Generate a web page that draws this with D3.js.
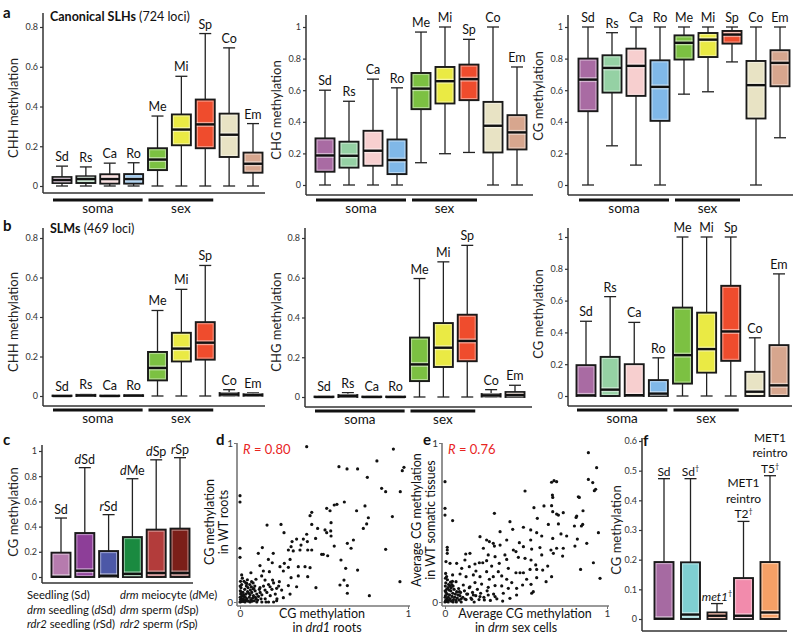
<!DOCTYPE html>
<html><head><meta charset="utf-8">
<script src="https://cdn.jsdelivr.net/npm/d3@7"></script>
<style>body{margin:0;background:#fff} svg{display:block} text{font-family:Lato,'Open Sans',sans-serif}</style>
</head><body>
<script>
// ---------------- DATA ----------------
const tissues = ["Sd","Rs","Ca","Ro","Me","Mi","Sp","Co","Em"];
const tissueColors = ["#a96ba3","#95d1a4","#f7cfcf","#80b8e8","#7cc142","#eaea44","#ef4c2d","#e8e3c4","#d7a68e"];
// box stats: [low whisker, q1, median, q3, high whisker]
const slhCHH = [[0,0.015,0.03,0.045,0.10],[0,0.015,0.035,0.049,0.096],[0,0.012,0.035,0.059,0.115],[0,0.012,0.035,0.06,0.117],
  [0,0.08,0.133,0.19,0.352],[0,0.205,0.284,0.36,0.552],[0,0.19,0.31,0.435,0.767],[0,0.146,0.258,0.364,0.695],[0,0.067,0.112,0.168,0.314]];
const slhCHG = [[0,0.084,0.187,0.295,0.60],[0,0.11,0.185,0.274,0.53],[0,0.122,0.217,0.343,0.67],[0,0.069,0.158,0.288,0.615],
  [0.141,0.48,0.61,0.709,0.968],[0.198,0.516,0.657,0.747,1.0],[0.206,0.537,0.67,0.762,0.922],[0,0.206,0.375,0.526,1.0],[0,0.225,0.333,0.442,0.747]];
const slhCG = [[0,0.467,0.667,0.8,1],[0.248,0.585,0.741,0.821,0.964],[0.126,0.564,0.754,0.863,1],[0,0.406,0.621,0.789,1],
  [0.575,0.794,0.9,0.947,1],[0.59,0.81,0.92,0.962,1],[0.779,0.895,0.952,0.975,1],[0,0.421,0.632,0.785,1],[0.299,0.625,0.773,0.853,1]];
const slmCHH = [[0,0,0,0.002,0.002],[0,0,0.003,0.006,0.008],[0,0,0,0.002,0.003],[0,0,0.002,0.004,0.005],
  [0,0.079,0.142,0.223,0.433],[0,0.175,0.24,0.32,0.54],[0,0.184,0.27,0.374,0.661],[0,0.002,0.008,0.015,0.032],[0,0.001,0.005,0.009,0.017]];
const slmCHG = [[0,0,0,0.002,0.003],[0,0,0.005,0.01,0.022],[0,0,0,0.002,0.003],[0,0,0,0.002,0.003],
  [0,0.08,0.164,0.299,0.596],[0,0.151,0.248,0.372,0.68],[0,0.18,0.282,0.414,0.763],[0,0.002,0.008,0.015,0.037],[0,0,0.01,0.025,0.059]];
const slmCG = [[0,0,0.004,0.194,0.47],[0,0,0.04,0.246,0.625],[0,0,0.005,0.2,0.463],[0,0,0.015,0.1,0.24],
  [0,0.078,0.257,0.556,1],[0,0.147,0.295,0.524,1],[0,0.221,0.406,0.693,1],[0,0,0.027,0.152,0.366],[0,0,0.067,0.32,0.768]];

const mutantCats = ["Sd","dSd","rSd","dMe","dSp","rSp"];
const mutantLabels = ["Sd","*d*Sd","*r*Sd","*d*Me","*d*Sp","*r*Sp"];
const mutantColors = ["#b67bae","#8d3e98","#4c58a7","#1a8a40","#b33c3b","#7b1f19"];
const mutantCG = [[0,0,0.002,0.193,0.468],[0,0,0.05,0.349,0.868],[0,0,0.01,0.206,0.495],[0,0,0.025,0.317,0.78],[0,0,0.032,0.376,0.93],[0,0,0.032,0.384,0.947]];
const mutantLegend = [["Seedling (Sd)","*drm* seedling (*d*Sd)","*rdr2* seedling (*r*Sd)"],["*drm* meiocyte (*d*Me)","*drm* sperm (*d*Sp)","*rdr2* sperm (*r*Sp)"]];

const met1Cats = ["Sd","Sd2","met1","T2","T5"];
const met1Labels = ["Sd","Sd†","*met1*†","MET1|reintro|T2†","MET1|reintro|T5†"];
const met1Colors = ["#a66aa2","#7fcfd2","#ee5a2a","#f28bac","#f6a066"];
const met1CG = [[0,0,0.001,0.192,0.473],[0,0,0.015,0.191,0.473],[0,0,0.011,0.022,0.052],[0,0,0.011,0.138,0.329],[0,0,0.022,0.192,0.483]];

const groupNames = ["soma","sex"];

// scatter d: [CG in drd1 roots, CG in WT roots]
const scatterD = [[0.397,0.977],[0.913,0.962],[0.815,0.887],[0.589,0.851],[0.637,0.837],[0.700,0.837],[0.976,0.847],[0.966,0.826],[0.758,0.784],
[0.843,0.715],[0.867,0.694],[0.954,0.694],[0.0,0.669],[0.0,0.629],[0.621,0.629],[0.577,0.614],[0.561,0.610],[0.744,0.604],[0.516,0.589],
[0.536,0.574],[0.694,0.574],[0.427,0.564],[0.417,0.543],[0.764,0.530],[0.907,0.537],[0.542,0.499],[0.161,0.484],[0.244,0.488],[0.427,0.488],
[0.754,0.491],[0.462,0.463],[0.734,0.463],[0.262,0.436],[0.397,0.426],[0.506,0.453],[0.516,0.436],[0.540,0.447],[0.542,0.415],[0.337,0.396],
[0.377,0.396],[0.450,0.400],[0.310,0.380],[0.363,0.358],[0.401,0.380],[0.675,0.390],[0.639,0.369],[0.561,0.352],[0.0,0.338],[0.133,0.342],
[0.304,0.348],[0.661,0.338],[0.288,0.327],[0.317,0.321],[0.357,0.327],[0.403,0.327],[0.427,0.327],[0.867,0.331],[0.109,0.306],[0.198,0.306],
[0.486,0.300],[0.496,0.300],[0.522,0.291],[0.0,0.281],[0.169,0.268],[0.298,0.268],[0.192,0.247],[0.264,0.243],[0.601,0.264],[0.119,0.229],
[0.238,0.222],[0.288,0.218],[0.347,0.222],[0.387,0.222],[0.417,0.216],[0.629,0.212],[0.700,0.201],[0.139,0.195],[0.175,0.191],[0.258,0.195],
[0.065,0.184],[0.010,0.170],[0.129,0.164],[0.304,0.153],[0.347,0.164],[0.403,0.159],[0.619,0.138],[0.095,0.143],[0.149,0.138],[0.194,0.138],
[0.234,0.128],[0.069,0.128],[0.040,0.117],[0.595,0.107],[0.639,0.103],[0.288,0.103],[0.337,0.096],[0.452,0.090],[0.952,0.128],[0.179,0.096],
[0.218,0.086],[0.248,0.075],[0.119,0.090],[0.149,0.075],[0.079,0.082],[0.639,0.055],[0.298,0.050],[0.770,0.040],[0.258,0.027],[0.218,0.008],
[0.155,0.0],
[0,0],[0.005,0.002],[0.01,0.005],[0.015,0.01],[0.02,0.003],[0.003,0.015],[0.008,0.025],[0.012,0.04],[0.004,0.05],[0.002,0.07],[0.006,0.09],
[0.01,0.11],[0.003,0.13],[0.02,0.02],[0.025,0.035],[0.03,0.01],[0.035,0.05],[0.04,0.02],[0.045,0.065],[0.05,0.005],[0.055,0.03],[0.06,0.045],
[0.065,0.015],[0.07,0.06],[0.075,0.025],[0.08,0.04],[0.085,0.008],[0.09,0.07],[0.095,0.02],[0.1,0.05],[0.105,0.012],[0.11,0.035],[0.115,0.08],
[0.12,0.06],[0.125,0.02],[0.13,0.045],[0.018,0.06],[0.028,0.08],[0.038,0.1],[0.048,0.09],[0.058,0.11],[0.068,0.095],[0.078,0.12],[0.088,0.1],
[0.014,0.15],[0.024,0.13],[0.034,0.12],[0.044,0.14],[0.001,0.1],[0.001,0.03],[0.007,0.06],[0.022,0.045],[0.032,0.03],[0.042,0.008],[0.052,0.055],
[0.062,0.075],[0.072,0.005],[0.082,0.085],[0.092,0.03],[0.14,0.1],[0.15,0.02],[0.16,0.06],[0.17,0.11],[0.18,0.04],[0.19,0.08],[0.2,0.12],
[0.21,0.05],[0.22,0.02],[0.23,0.1],[0.17,0.0],[0.2,0.0],[0.13,0.0],[0.1,0.0],[0.06,0.0],[0.03,0.0]];

// scatter e: [avg CG in drm sex cells, avg CG in WT somatic tissues]
const scatterE = [[0.885,0.939],[0.936,0.845],[0.0,0.757],[0.885,0.771],[0.912,0.751],[0.930,0.709],[0.922,0.700],[0.658,0.753],[0.673,0.763],
[0.689,0.757],[0.494,0.698],[0.663,0.673],[0.665,0.658],[0.823,0.662],[0.829,0.658],[0.0,0.589],[0.0,0.547],[0.047,0.512],[0.611,0.604],
[0.658,0.606],[0.549,0.593],[0.665,0.568],[0.689,0.553],[0.700,0.547],[0.730,0.562],[0.305,0.558],[0.852,0.574],[0.570,0.526],[0.809,0.532],
[0.813,0.541],[0.401,0.505],[0.418,0.457],[0.340,0.442],[0.484,0.470],[0.638,0.488],[0.700,0.491],[0.799,0.478],[0.850,0.488],[0.842,0.478],
[0.947,0.436],[0.716,0.428],[0.751,0.415],[0.665,0.400],[0.529,0.453],[0.566,0.436],[0.597,0.415],[0.817,0.396],[0.875,0.369],[0.216,0.411],
[0.381,0.390],[0.459,0.373],[0.529,0.390],[0.257,0.390],[0.274,0.380],[0.298,0.369],[0.305,0.352],[0.014,0.344],[0.014,0.327],[0.014,0.306],
[0.237,0.338],[0.340,0.358],[0.422,0.327],[0.438,0.317],[0.484,0.348],[0.586,0.342],[0.654,0.327],[0.689,0.338],[0.730,0.338],[0.802,0.352],
[0.128,0.302],[0.154,0.306],[0.267,0.296],[0.309,0.285],[0.370,0.296],[0.535,0.333],[0.597,0.296],[0.669,0.306],[0.726,0.289],[0.006,0.254],
[0.031,0.243],[0.072,0.243],[0.123,0.264],[0.185,0.239],[0.212,0.247],[0.233,0.247],[0.257,0.260],[0.288,0.226],[0.335,0.243],[0.381,0.268],
[0.453,0.281],[0.494,0.275],[0.531,0.264],[0.560,0.233],[0.634,0.226],[0.837,0.205],[0.916,0.247],[0.957,0.149],[0.103,0.212],[0.150,0.222],
[0.191,0.195],[0.257,0.191],[0.329,0.191],[0.391,0.212],[0.438,0.184],[0.463,0.184],[0.484,0.184],[0.525,0.205],[0.566,0.205],[0.603,0.201],
[0.658,0.159],[0.047,0.170],[0.093,0.176],[0.130,0.159],[0.175,0.170],[0.216,0.159],[0.274,0.143],[0.298,0.159],[0.350,0.164],[0.381,0.143],
[0.412,0.122],[0.504,0.143],[0.566,0.153],[0.624,0.128],[0.068,0.128],[0.113,0.107],[0.154,0.096],[0.185,0.122],[0.226,0.113],[0.267,0.092],
[0.309,0.103],[0.350,0.101],[0.391,0.086],[0.442,0.086],[0.479,0.107],[0.531,0.111],[0.535,0.055],[0.545,0.065],[0.089,0.065],[0.134,0.050],
[0.175,0.044],[0.216,0.034],[0.267,0.044],[0.309,0.034],[0.360,0.055],[0.401,0.023],[0.442,0.044],[0.356,0.006],[0.243,0.013],[0.165,0.017],
[0.123,0.019],
[0,0],[0.004,0.01],[0.008,0.003],[0.012,0.02],[0.016,0.006],[0.02,0.03],[0.003,0.04],[0.006,0.06],[0.01,0.08],[0.002,0.1],[0.005,0.12],
[0.003,0.15],[0.004,0.18],[0.024,0.012],[0.028,0.045],[0.032,0.02],[0.036,0.07],[0.04,0.005],[0.044,0.035],[0.048,0.055],[0.052,0.015],
[0.056,0.08],[0.06,0.03],[0.064,0.05],[0.068,0.01],[0.072,0.065],[0.076,0.025],[0.08,0.045],[0.084,0.085],[0.088,0.012],[0.092,0.04],
[0.096,0.06],[0.1,0.02],[0.014,0.05],[0.018,0.09],[0.022,0.11],[0.026,0.075],[0.03,0.1],[0.034,0.125],[0.038,0.09],[0.042,0.11],[0.046,0.13],
[0.05,0.1],[0.001,0.07],[0.001,0.03],[0.015,0.14],[0.01,0.16],[0.11,0.03],[0.12,0.07],[0.13,0.015],[0.14,0.05],[0.15,0.09],[0.16,0.025],
[0.17,0.06],[0.18,0.0],[0.19,0.04],[0.2,0.08],[0.21,0.015],[0.22,0.055],[0.24,0.03],[0.26,0.07],[0.28,0.01],[0.3,0.05],[0.32,0.02],
[0.07,0.0],[0.1,0.0],[0.05,0.0],[0.02,0.0]];

// ---------------- DRAWING ----------------
const svg = d3.select("body").append("svg").attr("width",800).attr("height",642);
const FONT = "Lato,'Open Sans',sans-serif";
const fmtTick = d => d===0 ? "0" : (d===1 ? "1" : (+d.toFixed(2)).toString());

// rich text: '*' toggles italic, '|' new line, '†' superscript dagger
function richText(sel, str, x, yBase, size, anchor, lineH){
  const lines = str.split("|");
  lines.forEach((ln, li) => {
    const t = sel.append("text").attr("x",x).attr("y",yBase - (lines.length-1-li)*lineH)
      .attr("text-anchor",anchor).attr("font-size",size).attr("fill","#111").attr("font-family",FONT);
    const parts = ln.split("*");
    parts.forEach((p, pi) => {
      if(!p) return;
      const segs = p.split("†");
      segs.forEach((s, si) => {
        if(s) t.append("tspan").attr("font-style", pi%2 ? "italic" : "normal").text(s);
        if(si < segs.length-1) t.append("tspan").attr("font-size",size*0.6).attr("dy",-size*0.35).text("†");
      });
    });
  });
}

function boxPanel(p){
  const g = svg.append("g");
  const x = d3.scalePoint().domain(p.cats).range(p.xr);
  const y = d3.scaleLinear().domain([0,p.dmax]).range([p.y0,p.y1]);
  const ax = d3.axisLeft(y).tickValues(p.ticks).tickFormat(fmtTick).tickSize(3).tickPadding(2);
  const ga = g.append("g").attr("transform",`translate(${p.ax},0)`).call(ax);
  ga.select(".domain").remove();
  ga.selectAll("text").attr("font-size",9).attr("fill","#333").attr("font-family",FONT);
  ga.selectAll("line").attr("stroke","#333").attr("stroke-width",1.2);
  g.append("line").attr("x1",p.ax).attr("x2",p.ax).attr("y1",p.top).attr("y2",p.bottom).attr("stroke","#333").attr("stroke-width",1.5);
  g.append("line").attr("x1",p.ax).attr("x2",p.right).attr("y1",p.bottom).attr("y2",p.bottom).attr("stroke","#333").attr("stroke-width",1.5);
  const bw = 19, cw = 12;
  p.stats.forEach((s,i) => {
    const cx = x(p.cats[i]);
    const [lo,q1,md,q3,hi] = s;
    const wl = {stroke:"#222","stroke-width":1.3};
    const L = (x1,y1,x2,y2,st) => { const l = g.append("line").attr("x1",x1).attr("y1",y1).attr("x2",x2).attr("y2",y2); Object.entries(st).forEach(([k,v])=>l.attr(k,v)); return l; };
    L(cx,y(hi),cx,y(q3),wl); L(cx,y(q1),cx,y(lo),wl);
    L(cx-cw/2,y(hi),cx+cw/2,y(hi),wl); L(cx-cw/2,y(lo),cx+cw/2,y(lo),wl);
    g.append("rect").attr("x",cx-bw/2).attr("y",y(q3)).attr("width",bw).attr("height",Math.max(0,y(q1)-y(q3)))
      .attr("fill",p.colors[i]).attr("stroke","#1a1a1a").attr("stroke-width",1.9);
    if(y(q1)-y(q3) > 4) g.append("rect").attr("x",cx-bw/2+1.6).attr("y",y(q3)+1.6).attr("width",bw-3.2).attr("height",y(q1)-y(q3)-3.2)
      .attr("fill","none").attr("stroke","#fff").attr("stroke-opacity",0.45).attr("stroke-width",1);
    L(cx-bw/2+1,y(md),cx+bw/2-1,y(md),{stroke:"#fff","stroke-opacity":0.5,"stroke-width":5});
    L(cx-bw/2,y(md),cx+bw/2,y(md),{stroke:"#111","stroke-width":2.4});
    richText(g, p.labels[i], cx, y(hi)-p.labGap, p.labSize||12.5, "middle", p.lineH||15);
  });
  if(p.groups){
    const spans = [[x(p.cats[0])-9, x(p.cats[3])+9],[x(p.cats[4])-9, x(p.cats[6])+8]];
    spans.forEach((sp,k) => {
      g.append("line").attr("x1",sp[0]).attr("x2",sp[1]).attr("y1",p.groupY).attr("y2",p.groupY).attr("stroke","#111").attr("stroke-width",3);
      g.append("text").attr("x",(sp[0]+sp[1])/2).attr("y",p.groupY+12.5).attr("text-anchor","middle").attr("font-size",13.5)
        .attr("font-family",FONT).attr("fill","#111").text(groupNames[k]);
    });
  }
  g.append("text").attr("transform",`translate(${p.ylx},${p.yly}) rotate(-90)`).attr("text-anchor","middle")
    .attr("font-size",13).attr("font-family",FONT).attr("fill","#222").text(p.ylabel);
}

function scatterPanel(p){
  const g = svg.append("g");
  const x = d3.scaleLinear().domain([0,1]).range(p.xr);
  const y = d3.scaleLinear().domain([0,1]).range(p.yr);
  g.append("line").attr("x1",p.ax).attr("x2",p.ax).attr("y1",p.yr[1]).attr("y2",p.bottom).attr("stroke","#777").attr("stroke-width",1.6);
  g.append("line").attr("x1",p.ax).attr("x2",p.xr[1]+2).attr("y1",p.bottom).attr("y2",p.bottom).attr("stroke","#777").attr("stroke-width",1.6);
  const ay = d3.axisLeft(y).tickValues([0,1]).tickFormat(fmtTick).tickSize(3).tickPadding(1);
  const gy = g.append("g").attr("transform",`translate(${p.ax},0)`).call(ay);
  const axx = d3.axisBottom(x).tickValues([0,1]).tickFormat(fmtTick).tickSize(3).tickPadding(1);
  const gx = g.append("g").attr("transform",`translate(0,${p.bottom})`).call(axx);
  [gy,gx].forEach(a => { a.select(".domain").remove(); a.selectAll("line").attr("stroke","#777");
    a.selectAll("text").attr("font-size",10).attr("fill","#333").attr("font-family",FONT); });
  g.selectAll("circle.pt").data(p.data).join("circle").attr("class","pt")
    .attr("cx",d=>x(d[0])).attr("cy",d=>y(d[1])).attr("r",1.6).attr("fill","#111");
  const rt = g.append("text").attr("x",p.xr[0]+3).attr("y",p.yr[1]+11).attr("font-size",13).attr("fill","#e8251f").attr("font-family",FONT);
  rt.append("tspan").attr("font-style","italic").text("R");
  rt.append("tspan").text(" = " + p.r);
  // x title
  p.xtitle.forEach((t,i) => richText(g, t, p.xtx[i], p.bottom+12+i*13.5, 12.5, "middle", 13));
  // y title rotated
  const gyT = g.append("g").attr("transform",`translate(${p.ytx},${p.yty}) rotate(-90)`);
  p.ytitle.forEach((t,i) => richText(gyT, t, 0, i*14, 12.5, "middle", 14));
}

// Panel a
const tLabels = tissues;
boxPanel({cats:tissues,labels:tLabels,colors:tissueColors,stats:slhCHH,xr:[62,253],dmax:0.8,y0:186,y1:27,ticks:[0,0.2,0.4,0.6,0.8],
  ax:43,top:13,bottom:193,right:265,groups:true,groupY:200,ylabel:"CHH methylation",ylx:18,yly:108,labGap:5});
boxPanel({cats:tissues,labels:tLabels,colors:tissueColors,stats:slhCHG,xr:[325,517],dmax:1,y0:185,y1:27,ticks:[0,0.2,0.4,0.6,0.8,1],
  ax:306,top:15,bottom:195,right:533,groups:true,groupY:200,ylabel:"CHG methylation",ylx:281,yly:110,labGap:5});
boxPanel({cats:tissues,labels:tLabels,colors:tissueColors,stats:slhCG,xr:[588,780],dmax:1,y0:185,y1:27,ticks:[0,0.2,0.4,0.6,0.8,1],
  ax:568,top:15,bottom:195,right:793,groups:true,groupY:200,ylabel:"CG methylation",ylx:543,yly:96,labGap:5});
// Panel b
boxPanel({cats:tissues,labels:tLabels,colors:tissueColors,stats:slmCHH,xr:[62,253],dmax:0.8,y0:396,y1:238,ticks:[0,0.2,0.4,0.6,0.8],
  ax:43,top:228,bottom:406,right:265,groups:true,groupY:410,ylabel:"CHH methylation",ylx:18,yly:322,labGap:5});
boxPanel({cats:tissues,labels:tLabels,colors:tissueColors,stats:slmCHG,xr:[324,515],dmax:0.8,y0:397,y1:238,ticks:[0,0.2,0.4,0.6,0.8],
  ax:305,top:228,bottom:407,right:532,groups:true,groupY:411,ylabel:"CHG methylation",ylx:281,yly:322,labGap:5});
boxPanel({cats:tissues,labels:tLabels,colors:tissueColors,stats:slmCG,xr:[586,779],dmax:1,y0:396,y1:237,ticks:[0,0.2,0.4,0.6,0.8,1],
  ax:568,top:228,bottom:406,right:792,groups:true,groupY:410,ylabel:"CG methylation",ylx:543,yly:314,labGap:5});
// Panel c
boxPanel({cats:mutantCats,labels:mutantLabels,colors:mutantColors,stats:mutantCG,xr:[61,180],dmax:1,y0:577,y1:451,ticks:[0,0.2,0.4,0.6,0.8,1],
  ax:42,top:445,bottom:583,right:193,groups:false,ylabel:"CG methylation",ylx:18,yly:512,labGap:4});
mutantLegend.forEach((col,ci) => col.forEach((t,ri) => richText(svg, t, ci===0?27:120, 599+ri*14.5, 11.2, "start", 14)));
// Panel f
boxPanel({cats:met1Cats,labels:met1Labels,colors:met1Colors,stats:met1CG,xr:[664,770],dmax:0.6,y0:619,y1:441,ticks:[0,0.1,0.2,0.3,0.4,0.5,0.6],
  ax:642,top:438,bottom:631,right:787,groups:false,ylabel:"CG methylation",ylx:621,yly:530,labGap:3,labSize:12,lineH:15.5});
// Panel d, e
scatterPanel({data:scatterD,xr:[240,408],yr:[602,443],ax:237,bottom:606,r:"0.80",xtitle:["CG methylation","in *drd1* roots"],xtx:[322,327],
  ytitle:["CG methylation","in WT roots"],ytx:214,yty:522});
scatterPanel({data:scatterE,xr:[445,607],yr:[602,443],ax:442,bottom:606,r:"0.76",xtitle:["Average CG methylation","in *drm* sex cells"],xtx:[525,516],
  ytitle:["Average CG methylation","in WT somatic tissues"],ytx:421,yty:520});

// panel titles & letters
const letter = (t,x,y) => svg.append("text").attr("x",x).attr("y",y).attr("font-size",15).attr("font-weight",700).attr("font-family",FONT).attr("fill","#111").text(t);
letter("a",3,18); letter("b",3,231); letter("c",3,445); letter("d",216,445); letter("e",423,445); letter("f",643,446);
const title = (b,n,x,y) => { const t = svg.append("text").attr("x",x).attr("y",y).attr("font-size",12.5).attr("font-family",FONT).attr("fill","#111");
  t.append("tspan").attr("font-weight",700).text(b); t.append("tspan").text(n); };
title("Canonical SLHs"," (724 loci)",50,21);
title("SLMs"," (469 loci)",50,233);
</script>
</body></html>
